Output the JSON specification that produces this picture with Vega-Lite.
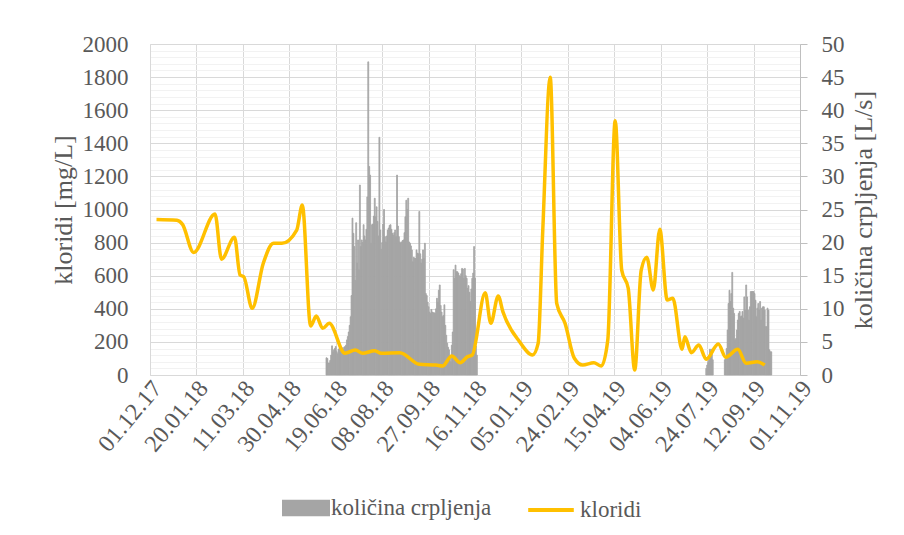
{
  "$schema": "https://vega.github.io/schema/vega-lite/v6.json",
  "width": 650,
  "height": 331,
  "autosize": {"type": "none"},
  "padding": {"left": 150, "top": 44, "right": 104, "bottom": 160},
  "background": "white",
  "config": {
    "font": "Liberation Serif",
    "view": {"stroke": null},
    "axis": {
      "labelFont": "Liberation Serif",
      "titleFont": "Liberation Serif",
      "labelColor": "#595959",
      "titleColor": "#595959",
      "labelFontSize": 23,
      "titleFontSize": 26,
      "titleFontWeight": "normal"
    },
    "axisX": {
      "labelAngle": -50, "labelAlign": "right", "labelBaseline": "middle", "labelPadding": 9, "labelOffset": 7,
      "labelFontSize": 24,
      "labelOverlap": false, "labelFlush": false, "labelBound": false,
      "grid": true, "gridColor": "#D9D9D9", "ticks": false, "domainColor": "#D9D9D9"
    },
    "legend": {
      "labelFont": "Liberation Serif",
      "labelFontSize": 23,
      "labelColor": "#595959",
      "labelLimit": 0,
      "padding": 0
    }
  },
  "datasets": {
    "pump": [
      {"d": "2018-06-08", "q": 2.6}, {"d": "2018-06-09", "q": 2.5}, {"d": "2018-06-10", "q": 1.8}, {"d": "2018-06-11", "q": 1.8},
      {"d": "2018-06-12", "q": 2.2}, {"d": "2018-06-13", "q": 3.0}, {"d": "2018-06-14", "q": 4.4}, {"d": "2018-06-15", "q": 3.5},
      {"d": "2018-06-16", "q": 3.8}, {"d": "2018-06-17", "q": 4.0}, {"d": "2018-06-18", "q": 4.3}, {"d": "2018-06-19", "q": 3.5},
      {"d": "2018-06-20", "q": 3.2}, {"d": "2018-06-21", "q": 3.9}, {"d": "2018-06-22", "q": 4.0}, {"d": "2018-06-23", "q": 3.8},
      {"d": "2018-06-24", "q": 4.0}, {"d": "2018-06-25", "q": 4.1}, {"d": "2018-06-26", "q": 3.9}, {"d": "2018-06-27", "q": 4.2},
      {"d": "2018-06-28", "q": 4.3}, {"d": "2018-06-29", "q": 4.5}, {"d": "2018-06-30", "q": 5.3},
      {"d": "2018-07-01", "q": 5.8}, {"d": "2018-07-02", "q": 6.5}, {"d": "2018-07-03", "q": 7.5}, {"d": "2018-07-04", "q": 8.8},
      {"d": "2018-07-05", "q": 12.0}, {"d": "2018-07-06", "q": 23.7}, {"d": "2018-07-07", "q": 21.4}, {"d": "2018-07-08", "q": 19.4},
      {"d": "2018-07-09", "q": 14.3}, {"d": "2018-07-10", "q": 23.0}, {"d": "2018-07-11", "q": 16.9}, {"d": "2018-07-12", "q": 20.4},
      {"d": "2018-07-13", "q": 15.9}, {"d": "2018-07-14", "q": 28.7}, {"d": "2018-07-15", "q": 19.4}, {"d": "2018-07-16", "q": 20.4},
      {"d": "2018-07-17", "q": 20.0}, {"d": "2018-07-18", "q": 22.7}, {"d": "2018-07-19", "q": 21.0}, {"d": "2018-07-20", "q": 20.4},
      {"d": "2018-07-21", "q": 22.0}, {"d": "2018-07-22", "q": 26.9}, {"d": "2018-07-23", "q": 47.3}, {"d": "2018-07-24", "q": 31.5},
      {"d": "2018-07-25", "q": 30.2}, {"d": "2018-07-26", "q": 19.9}, {"d": "2018-07-27", "q": 22.7}, {"d": "2018-07-28", "q": 22.8},
      {"d": "2018-07-29", "q": 24.0}, {"d": "2018-07-30", "q": 26.7}, {"d": "2018-07-31", "q": 23.9},
      {"d": "2018-08-01", "q": 25.4}, {"d": "2018-08-02", "q": 23.2}, {"d": "2018-08-03", "q": 21.0}, {"d": "2018-08-04", "q": 35.9},
      {"d": "2018-08-05", "q": 21.9}, {"d": "2018-08-06", "q": 19.0}, {"d": "2018-08-07", "q": 20.0}, {"d": "2018-08-08", "q": 22.8},
      {"d": "2018-08-09", "q": 25.0}, {"d": "2018-08-10", "q": 20.9}, {"d": "2018-08-11", "q": 20.1}, {"d": "2018-08-12", "q": 21.0},
      {"d": "2018-08-13", "q": 21.9}, {"d": "2018-08-14", "q": 22.2}, {"d": "2018-08-15", "q": 22.6}, {"d": "2018-08-16", "q": 22.7},
      {"d": "2018-08-17", "q": 22.0}, {"d": "2018-08-18", "q": 21.4}, {"d": "2018-08-19", "q": 21.1}, {"d": "2018-08-20", "q": 21.5},
      {"d": "2018-08-21", "q": 21.9}, {"d": "2018-08-22", "q": 20.9}, {"d": "2018-08-23", "q": 30.2}, {"d": "2018-08-24", "q": 22.5},
      {"d": "2018-08-25", "q": 20.9}, {"d": "2018-08-26", "q": 20.1}, {"d": "2018-08-27", "q": 19.9}, {"d": "2018-08-28", "q": 20.1},
      {"d": "2018-08-29", "q": 20.3}, {"d": "2018-08-30", "q": 20.4}, {"d": "2018-08-31", "q": 21.5},
      {"d": "2018-09-01", "q": 23.9}, {"d": "2018-09-02", "q": 26.4}, {"d": "2018-09-03", "q": 25.0}, {"d": "2018-09-04", "q": 26.7},
      {"d": "2018-09-05", "q": 20.1}, {"d": "2018-09-06", "q": 19.9}, {"d": "2018-09-07", "q": 19.5}, {"d": "2018-09-08", "q": 18.9},
      {"d": "2018-09-09", "q": 17.1}, {"d": "2018-09-10", "q": 17.8}, {"d": "2018-09-11", "q": 17.6}, {"d": "2018-09-12", "q": 17.6},
      {"d": "2018-09-13", "q": 18.9}, {"d": "2018-09-14", "q": 18.4}, {"d": "2018-09-15", "q": 18.3}, {"d": "2018-09-16", "q": 24.7},
      {"d": "2018-09-17", "q": 18.3}, {"d": "2018-09-18", "q": 16.9}, {"d": "2018-09-19", "q": 17.5}, {"d": "2018-09-20", "q": 18.9},
      {"d": "2018-09-21", "q": 17.6}, {"d": "2018-09-22", "q": 19.9}, {"d": "2018-09-23", "q": 12.3}, {"d": "2018-09-24", "q": 12.0},
      {"d": "2018-09-25", "q": 11.0}, {"d": "2018-09-26", "q": 10.3}, {"d": "2018-09-27", "q": 9.5}, {"d": "2018-09-28", "q": 9.3},
      {"d": "2018-09-29", "q": 9.9}, {"d": "2018-09-30", "q": 9.5},
      {"d": "2018-10-01", "q": 9.4}, {"d": "2018-10-02", "q": 9.4}, {"d": "2018-10-03", "q": 9.3}, {"d": "2018-10-04", "q": 10.0},
      {"d": "2018-10-05", "q": 11.6}, {"d": "2018-10-06", "q": 11.0}, {"d": "2018-10-07", "q": 12.8}, {"d": "2018-10-08", "q": 13.6},
      {"d": "2018-10-09", "q": 10.5}, {"d": "2018-10-10", "q": 9.5}, {"d": "2018-10-11", "q": 8.8}, {"d": "2018-10-12", "q": 9.0},
      {"d": "2018-10-13", "q": 10.6}, {"d": "2018-10-14", "q": 7.5}, {"d": "2018-10-15", "q": 6.0}, {"d": "2018-10-16", "q": 4.8},
      {"d": "2018-10-17", "q": 4.2}, {"d": "2018-10-18", "q": 3.8}, {"d": "2018-10-19", "q": 2.5}, {"d": "2018-10-20", "q": 2.0},
      {"d": "2018-10-21", "q": 4.5}, {"d": "2018-10-22", "q": 6.5}, {"d": "2018-10-23", "q": 15.9}, {"d": "2018-10-24", "q": 14.6},
      {"d": "2018-10-25", "q": 16.6}, {"d": "2018-10-26", "q": 15.6}, {"d": "2018-10-27", "q": 15.6}, {"d": "2018-10-28", "q": 15.4},
      {"d": "2018-10-29", "q": 15.0}, {"d": "2018-10-30", "q": 14.9}, {"d": "2018-10-31", "q": 15.3},
      {"d": "2018-11-01", "q": 16.1}, {"d": "2018-11-02", "q": 16.0}, {"d": "2018-11-03", "q": 14.6}, {"d": "2018-11-04", "q": 16.1},
      {"d": "2018-11-05", "q": 15.0}, {"d": "2018-11-06", "q": 14.6}, {"d": "2018-11-07", "q": 13.1}, {"d": "2018-11-08", "q": 13.5},
      {"d": "2018-11-09", "q": 12.5}, {"d": "2018-11-10", "q": 11.1}, {"d": "2018-11-11", "q": 13.0}, {"d": "2018-11-12", "q": 14.6},
      {"d": "2018-11-13", "q": 15.4}, {"d": "2018-11-14", "q": 19.4}, {"d": "2018-11-15", "q": 14.6}, {"d": "2018-11-16", "q": 4.4},
      {"d": "2018-11-17", "q": 3.0},
      {"d": "2019-07-22", "q": 1.0}, {"d": "2019-07-23", "q": 1.5}, {"d": "2019-07-24", "q": 2.0}, {"d": "2019-07-25", "q": 2.3},
      {"d": "2019-07-26", "q": 3.9}, {"d": "2019-07-27", "q": 3.5}, {"d": "2019-07-28", "q": 3.9}, {"d": "2019-07-29", "q": 2.3},
      {"d": "2019-08-11", "q": 2.3}, {"d": "2019-08-12", "q": 2.5}, {"d": "2019-08-13", "q": 4.0}, {"d": "2019-08-14", "q": 6.8},
      {"d": "2019-08-15", "q": 10.8}, {"d": "2019-08-16", "q": 12.8}, {"d": "2019-08-17", "q": 11.1}, {"d": "2019-08-18", "q": 12.3},
      {"d": "2019-08-19", "q": 15.5}, {"d": "2019-08-20", "q": 10.1}, {"d": "2019-08-21", "q": 9.3}, {"d": "2019-08-22", "q": 5.3},
      {"d": "2019-08-23", "q": 5.5}, {"d": "2019-08-24", "q": 6.8}, {"d": "2019-08-25", "q": 8.3}, {"d": "2019-08-26", "q": 9.3},
      {"d": "2019-08-27", "q": 9.6}, {"d": "2019-08-28", "q": 8.8}, {"d": "2019-08-29", "q": 8.9}, {"d": "2019-08-30", "q": 9.6},
      {"d": "2019-08-31", "q": 8.6}, {"d": "2019-09-01", "q": 11.8}, {"d": "2019-09-02", "q": 9.8}, {"d": "2019-09-03", "q": 13.6},
      {"d": "2019-09-04", "q": 11.8}, {"d": "2019-09-05", "q": 9.8}, {"d": "2019-09-06", "q": 8.3}, {"d": "2019-09-07", "q": 10.3},
      {"d": "2019-09-08", "q": 12.6}, {"d": "2019-09-09", "q": 12.6}, {"d": "2019-09-10", "q": 12.6}, {"d": "2019-09-11", "q": 12.6},
      {"d": "2019-09-12", "q": 12.3}, {"d": "2019-09-13", "q": 11.3}, {"d": "2019-09-14", "q": 8.8}, {"d": "2019-09-15", "q": 10.1},
      {"d": "2019-09-16", "q": 10.8}, {"d": "2019-09-17", "q": 9.8}, {"d": "2019-09-18", "q": 11.1}, {"d": "2019-09-19", "q": 8.3},
      {"d": "2019-09-20", "q": 10.1}, {"d": "2019-09-21", "q": 10.3}, {"d": "2019-09-22", "q": 10.3}, {"d": "2019-09-23", "q": 9.8},
      {"d": "2019-09-24", "q": 7.3}, {"d": "2019-09-25", "q": 7.3}, {"d": "2019-09-26", "q": 10.1}, {"d": "2019-09-27", "q": 9.8},
      {"d": "2019-09-28", "q": 3.8}, {"d": "2019-09-29", "q": 3.5}, {"d": "2019-09-30", "q": 3.5}
    ],
    "chl": [
      {"d": "2017-12-08", "c": 940}, {"d": "2017-12-30", "c": 935}, {"d": "2018-01-05", "c": 910}, {"d": "2018-01-17", "c": 740},
      {"d": "2018-02-09", "c": 973}, {"d": "2018-02-16", "c": 700}, {"d": "2018-03-02", "c": 832}, {"d": "2018-03-08", "c": 604},
      {"d": "2018-03-12", "c": 594}, {"d": "2018-03-21", "c": 403}, {"d": "2018-04-02", "c": 675}, {"d": "2018-04-13", "c": 796},
      {"d": "2018-04-22", "c": 796}, {"d": "2018-05-08", "c": 876}, {"d": "2018-05-14", "c": 1027}, {"d": "2018-05-23", "c": 296},
      {"d": "2018-05-29", "c": 356}, {"d": "2018-06-05", "c": 282}, {"d": "2018-06-12", "c": 312}, {"d": "2018-06-29", "c": 131},
      {"d": "2018-07-10", "c": 151}, {"d": "2018-07-18", "c": 131}, {"d": "2018-07-31", "c": 147}, {"d": "2018-08-07", "c": 131},
      {"d": "2018-08-27", "c": 135}, {"d": "2018-09-17", "c": 65}, {"d": "2018-10-05", "c": 60}, {"d": "2018-10-12", "c": 54},
      {"d": "2018-10-22", "c": 115}, {"d": "2018-10-31", "c": 74}, {"d": "2018-11-08", "c": 111}, {"d": "2018-11-13", "c": 121},
      {"d": "2018-11-27", "c": 497}, {"d": "2018-12-03", "c": 312}, {"d": "2018-12-11", "c": 477}, {"d": "2018-12-16", "c": 383},
      {"d": "2019-01-03", "c": 201}, {"d": "2019-01-17", "c": 121}, {"d": "2019-01-23", "c": 191}, {"d": "2019-01-28", "c": 876},
      {"d": "2019-02-05", "c": 1799}, {"d": "2019-02-12", "c": 433}, {"d": "2019-02-21", "c": 312}, {"d": "2019-03-03", "c": 101},
      {"d": "2019-03-12", "c": 60}, {"d": "2019-03-24", "c": 74}, {"d": "2019-04-01", "c": 54}, {"d": "2019-04-08", "c": 211},
      {"d": "2019-04-16", "c": 1537}, {"d": "2019-04-23", "c": 634}, {"d": "2019-04-30", "c": 524}, {"d": "2019-05-07", "c": 30},
      {"d": "2019-05-14", "c": 634}, {"d": "2019-05-20", "c": 711}, {"d": "2019-05-27", "c": 514}, {"d": "2019-06-03", "c": 880},
      {"d": "2019-06-11", "c": 453}, {"d": "2019-06-17", "c": 463}, {"d": "2019-06-27", "c": 155}, {"d": "2019-06-30", "c": 231},
      {"d": "2019-07-07", "c": 135}, {"d": "2019-07-15", "c": 181}, {"d": "2019-07-23", "c": 95}, {"d": "2019-08-05", "c": 187},
      {"d": "2019-08-13", "c": 107}, {"d": "2019-08-26", "c": 155}, {"d": "2019-09-04", "c": 71}, {"d": "2019-09-16", "c": 80},
      {"d": "2019-09-24", "c": 60}
    ]
  },
  "layer": [
    {
      "data": {"name": "pump"},
      "mark": {"type": "bar", "color": "#A5A5A5", "binSpacing": 0, "stroke": "#A5A5A5", "strokeWidth": 0.8},
      "encoding": {
        "x": {
          "field": "d", "type": "temporal", "timeUnit": "utcyearmonthdate",
          "scale": {"type": "utc", "domain": [{"year": 2017, "month": 12, "date": 1, "utc": true}, {"year": 2019, "month": 11, "date": 1, "utc": true}]},
          "axis": {
            "values": [
              {"year": 2017, "month": 12, "date": 1, "utc": true}, {"year": 2018, "month": 1, "date": 20, "utc": true},
              {"year": 2018, "month": 3, "date": 11, "utc": true}, {"year": 2018, "month": 4, "date": 30, "utc": true},
              {"year": 2018, "month": 6, "date": 19, "utc": true}, {"year": 2018, "month": 8, "date": 8, "utc": true},
              {"year": 2018, "month": 9, "date": 27, "utc": true}, {"year": 2018, "month": 11, "date": 16, "utc": true},
              {"year": 2019, "month": 1, "date": 5, "utc": true}, {"year": 2019, "month": 2, "date": 24, "utc": true},
              {"year": 2019, "month": 4, "date": 15, "utc": true}, {"year": 2019, "month": 6, "date": 4, "utc": true},
              {"year": 2019, "month": 7, "date": 24, "utc": true}, {"year": 2019, "month": 9, "date": 12, "utc": true},
              {"year": 2019, "month": 11, "date": 1, "utc": true}
            ],
            "labelExpr": "utcFormat(datum.value, '%d.%m.%y')", "title": null
          }
        },
        "y": {
          "field": "q", "type": "quantitative",
          "scale": {"domain": [0, 50], "nice": false},
          "axis": {
            "orient": "right",
            "values": [0,1,2,3,4,5,6,7,8,9,10,11,12,13,14,15,16,17,18,19,20,21,22,23,24,25,26,27,28,29,30,31,32,33,34,35,36,37,38,39,40,41,42,43,44,45,46,47,48,49,50],
            "labelExpr": "datum.value % 5 === 0 ? datum.label : ''",
            "labelOverlap": false, "labelFlush": false, "labelBound": false,
            "grid": true,
            "gridColor": {"condition": {"test": "datum.value % 5 === 0", "value": "#D9D9D9"}, "value": "#F2F2F2"},
            "tickSize": 7, "tickColor": "#BFBFBF",
            "tickOpacity": {"condition": {"test": "datum.value % 5 === 0", "value": 1}, "value": 0},
            "labelPadding": 14, "labelAlign": "left",
            "domainColor": "#BFBFBF",
            "title": "količina crpljenja [L/s]", "titleAngle": 270, "titleBaseline": "top", "titlePadding": 6
          }
        },
        "fill": {
          "datum": "količina crpljenja",
          "scale": {"range": ["#A5A5A5"]},
          "legend": {
            "orient": "none", "legendX": 132, "legendY": 440, "title": null,
            "symbolType": "M-1,-0.34H1V0.34H-1Z", "symbolSize": 2304, "symbolStrokeWidth": 0,
            "labelOffset": 1
          }
        }
      }
    },
    {
      "data": {"name": "chl"},
      "mark": {"type": "line", "interpolate": "monotone", "strokeWidth": 3.5},
      "encoding": {
        "x": {
          "field": "d", "type": "temporal",
          "scale": {"type": "utc", "domain": [{"year": 2017, "month": 12, "date": 1, "utc": true}, {"year": 2019, "month": 11, "date": 1, "utc": true}]},
          "axis": {
            "values": [
              {"year": 2017, "month": 12, "date": 1, "utc": true}, {"year": 2018, "month": 1, "date": 20, "utc": true},
              {"year": 2018, "month": 3, "date": 11, "utc": true}, {"year": 2018, "month": 4, "date": 30, "utc": true},
              {"year": 2018, "month": 6, "date": 19, "utc": true}, {"year": 2018, "month": 8, "date": 8, "utc": true},
              {"year": 2018, "month": 9, "date": 27, "utc": true}, {"year": 2018, "month": 11, "date": 16, "utc": true},
              {"year": 2019, "month": 1, "date": 5, "utc": true}, {"year": 2019, "month": 2, "date": 24, "utc": true},
              {"year": 2019, "month": 4, "date": 15, "utc": true}, {"year": 2019, "month": 6, "date": 4, "utc": true},
              {"year": 2019, "month": 7, "date": 24, "utc": true}, {"year": 2019, "month": 9, "date": 12, "utc": true},
              {"year": 2019, "month": 11, "date": 1, "utc": true}
            ],
            "labelExpr": "utcFormat(datum.value, '%d.%m.%y')", "title": null
          }
        },
        "y": {
          "field": "c", "type": "quantitative",
          "scale": {"domain": [0, 2000], "nice": false},
          "axis": {
            "orient": "left",
            "values": [0,200,400,600,800,1000,1200,1400,1600,1800,2000],
            "format": "d",
            "grid": false, "ticks": false, "labelPadding": 22,
            "labelOverlap": false, "labelFlush": false, "labelBound": false,
            "domainColor": "#D9D9D9",
            "title": "kloridi [mg/L]", "titlePadding": 6
          }
        },
        "stroke": {
          "datum": "kloridi",
          "scale": {"range": ["#FFC000"]},
          "legend": {
            "orient": "none", "legendX": 375, "legendY": 440, "title": null,
            "symbolType": "M-0.95,0H0.95", "symbolSize": 2304, "symbolStrokeWidth": 4,
            "labelOffset": 3
          }
        }
      }
    }
  ],
  "resolve": {"scale": {"y": "independent", "fill": "independent", "stroke": "independent"}}
}
